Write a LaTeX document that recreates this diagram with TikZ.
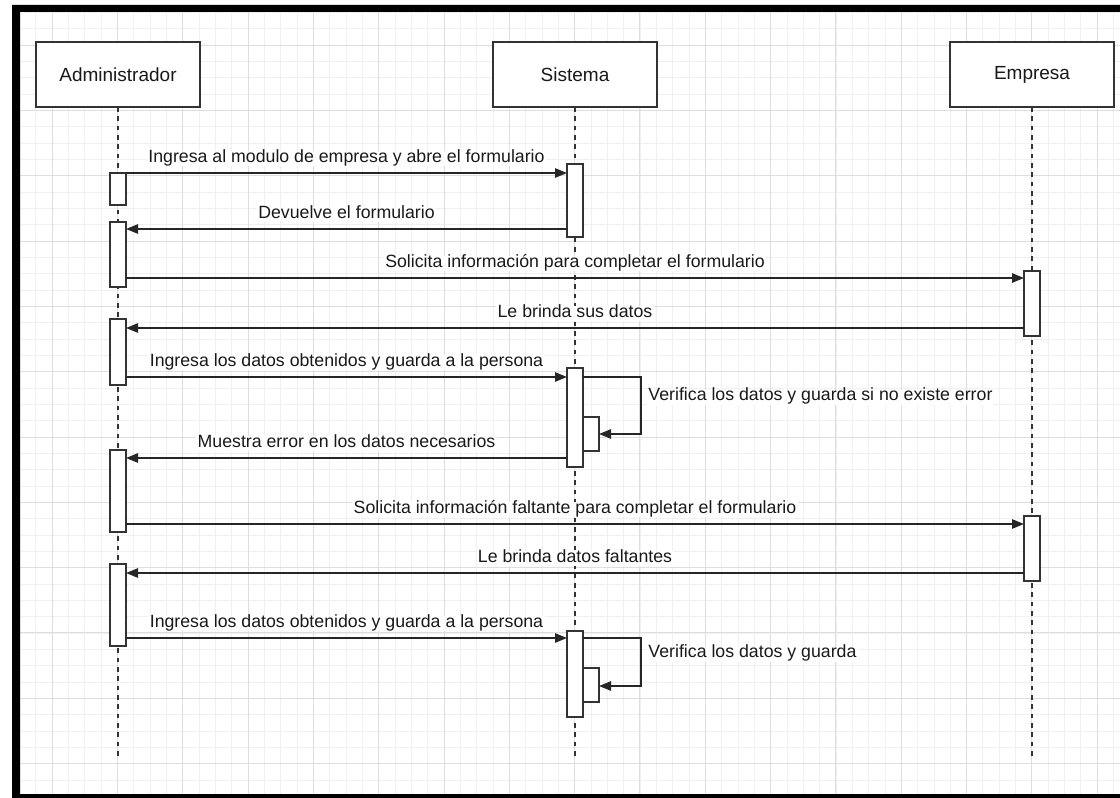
\documentclass[tikz,border=0pt]{standalone}
\usepackage{fontspec}
\setmainfont{Liberation Sans}
\usetikzlibrary{arrows.meta}

\begin{document}
\begin{tikzpicture}[
    x=0.75pt, y=-0.75pt,
    head/.style={
      draw=black!80, fill=white, line width=1.1pt, text=black!90,
      minimum width=123pt, minimum height=48.75pt, outer sep=0pt,
      font=\fontsize{14.25}{17}\selectfont
    },
    act/.style={
      draw=black!80, fill=white, line width=1.1pt,
      minimum width=12pt, minimum height=#1*0.75pt,
      inner sep=0pt, outer sep=0pt
    },
    life/.style={draw=black!80, line width=1.5pt, dash pattern=on 3.5pt off 3.5pt},
    msg/.style={draw=black!85, line width=1.2pt, -{Triangle[length=9pt,width=7pt]}},
    lbl/.style={
      font=\fontsize{13.3}{16}\selectfont, text=black!90, fill=white, inner sep=1pt,
      text height=0.73em, text depth=0.21em
    },
    minor/.style={black!6, line width=0.5pt},
    major/.style={black!13, line width=0.6pt}
  ]
  \useasboundingbox (0,0) rectangle (1120,798);
  \fill[white] (0,0) rectangle (1120,798);
  \begin{scope}
    \clip (20,12) rectangle (1120,794);
    \foreach \k in {-1,...,65} \draw[minor] (52+16.33*\k,12) -- (52+16.33*\k,794);
    \foreach \k in {-2,...,46} \draw[minor] (20,45+16.33*\k) -- (1120,45+16.33*\k);
    \foreach \k in {0,...,16} \draw[major] (52+65.32*\k,12) -- (52+65.32*\k,794);
    \foreach \k in {0,...,12} \draw[major] (20,45+65.32*\k) -- (1120,45+65.32*\k);
  \end{scope}
  \fill[black, even odd rule] (12,5) rectangle (1120,798) (20,12) rectangle (1120,794);

  \node[head] (adm) at (118,74.5) {Administrador};
  \node[head] (sis) at (575,74.5) {Sistema};
  \node[head] (emp) at (1032,74.5) {Empresa};

  \coordinate (adm-end) at (118,757);
  \coordinate (sis-end) at (575,757);
  \coordinate (emp-end) at (1032,757);
  \draw[life] (adm) -- (adm-end);
  \draw[life] (sis) -- (sis-end);
  \draw[life] (emp) -- (emp-end);

  \foreach \n/\x/\y/\h in {a1/118/189/32, a2/118/254.5/65, a3/118/352/66,
      a4/118/491/82, a5/118/605/82, s1/575/200.5/73, s2/575/417.5/99,
      s2n/591/434/34, s3/575/674/86, s3n/591/685/34,
      e1/1032/303.5/65, e2/1032/548.5/65}
    \node[act=\h] (\n) at (\x,\y) {};

  \foreach \n/\y in {1/173, 2/229, 3/278, 4/328, 5/377, 6/458, 7/524, 8/573, 9/638}
    \coordinate (m\n) at (0,\y);
  \coordinate (k1) at (641,434);
  \coordinate (k2) at (641,686);

  \draw[msg] (a1.east |- m1) -- node[lbl, above=4.5pt] {Ingresa al modulo de empresa y abre el formulario} (s1.west |- m1);
  \draw[msg] (s1.west |- m2) -- node[lbl, above=4.5pt] {Devuelve el formulario} (a2.east |- m2);
  \draw[msg] (a2.east |- m3) -- node[lbl, above=4.5pt] {Solicita información para completar el formulario} (e1.west |- m3);
  \draw[msg] (e1.west |- m4) -- node[lbl, above=4.5pt] {Le brinda sus datos} (a3.east |- m4);
  \draw[msg] (a3.east |- m5) -- node[lbl, above=4.5pt] {Ingresa los datos obtenidos y guarda a la persona} (s2.west |- m5);
  \draw[msg] (s2.east |- m5) -| node[lbl, pos=0.68, right=4pt] {Verifica los datos y guarda si no existe error} (k1) -- (s2n.east |- k1);
  \draw[msg] (s2.west |- m6) -- node[lbl, above=4.5pt] {Muestra error en los datos necesarios} (a4.east |- m6);
  \draw[msg] (a4.east |- m7) -- node[lbl, above=4.5pt] {Solicita información faltante para completar el formulario} (e2.west |- m7);
  \draw[msg] (e2.west |- m8) -- node[lbl, above=4.5pt] {Le brinda datos faltantes} (a5.east |- m8);
  \draw[msg] (a5.east |- m9) -- node[lbl, above=4.5pt] {Ingresa los datos obtenidos y guarda a la persona} (s3.west |- m9);
  \draw[msg] (s3.east |- m9) -| node[lbl, pos=0.67, right=4pt] {Verifica los datos y guarda} (k2) -- (s3n.east |- k2);
\end{tikzpicture}
\end{document}
